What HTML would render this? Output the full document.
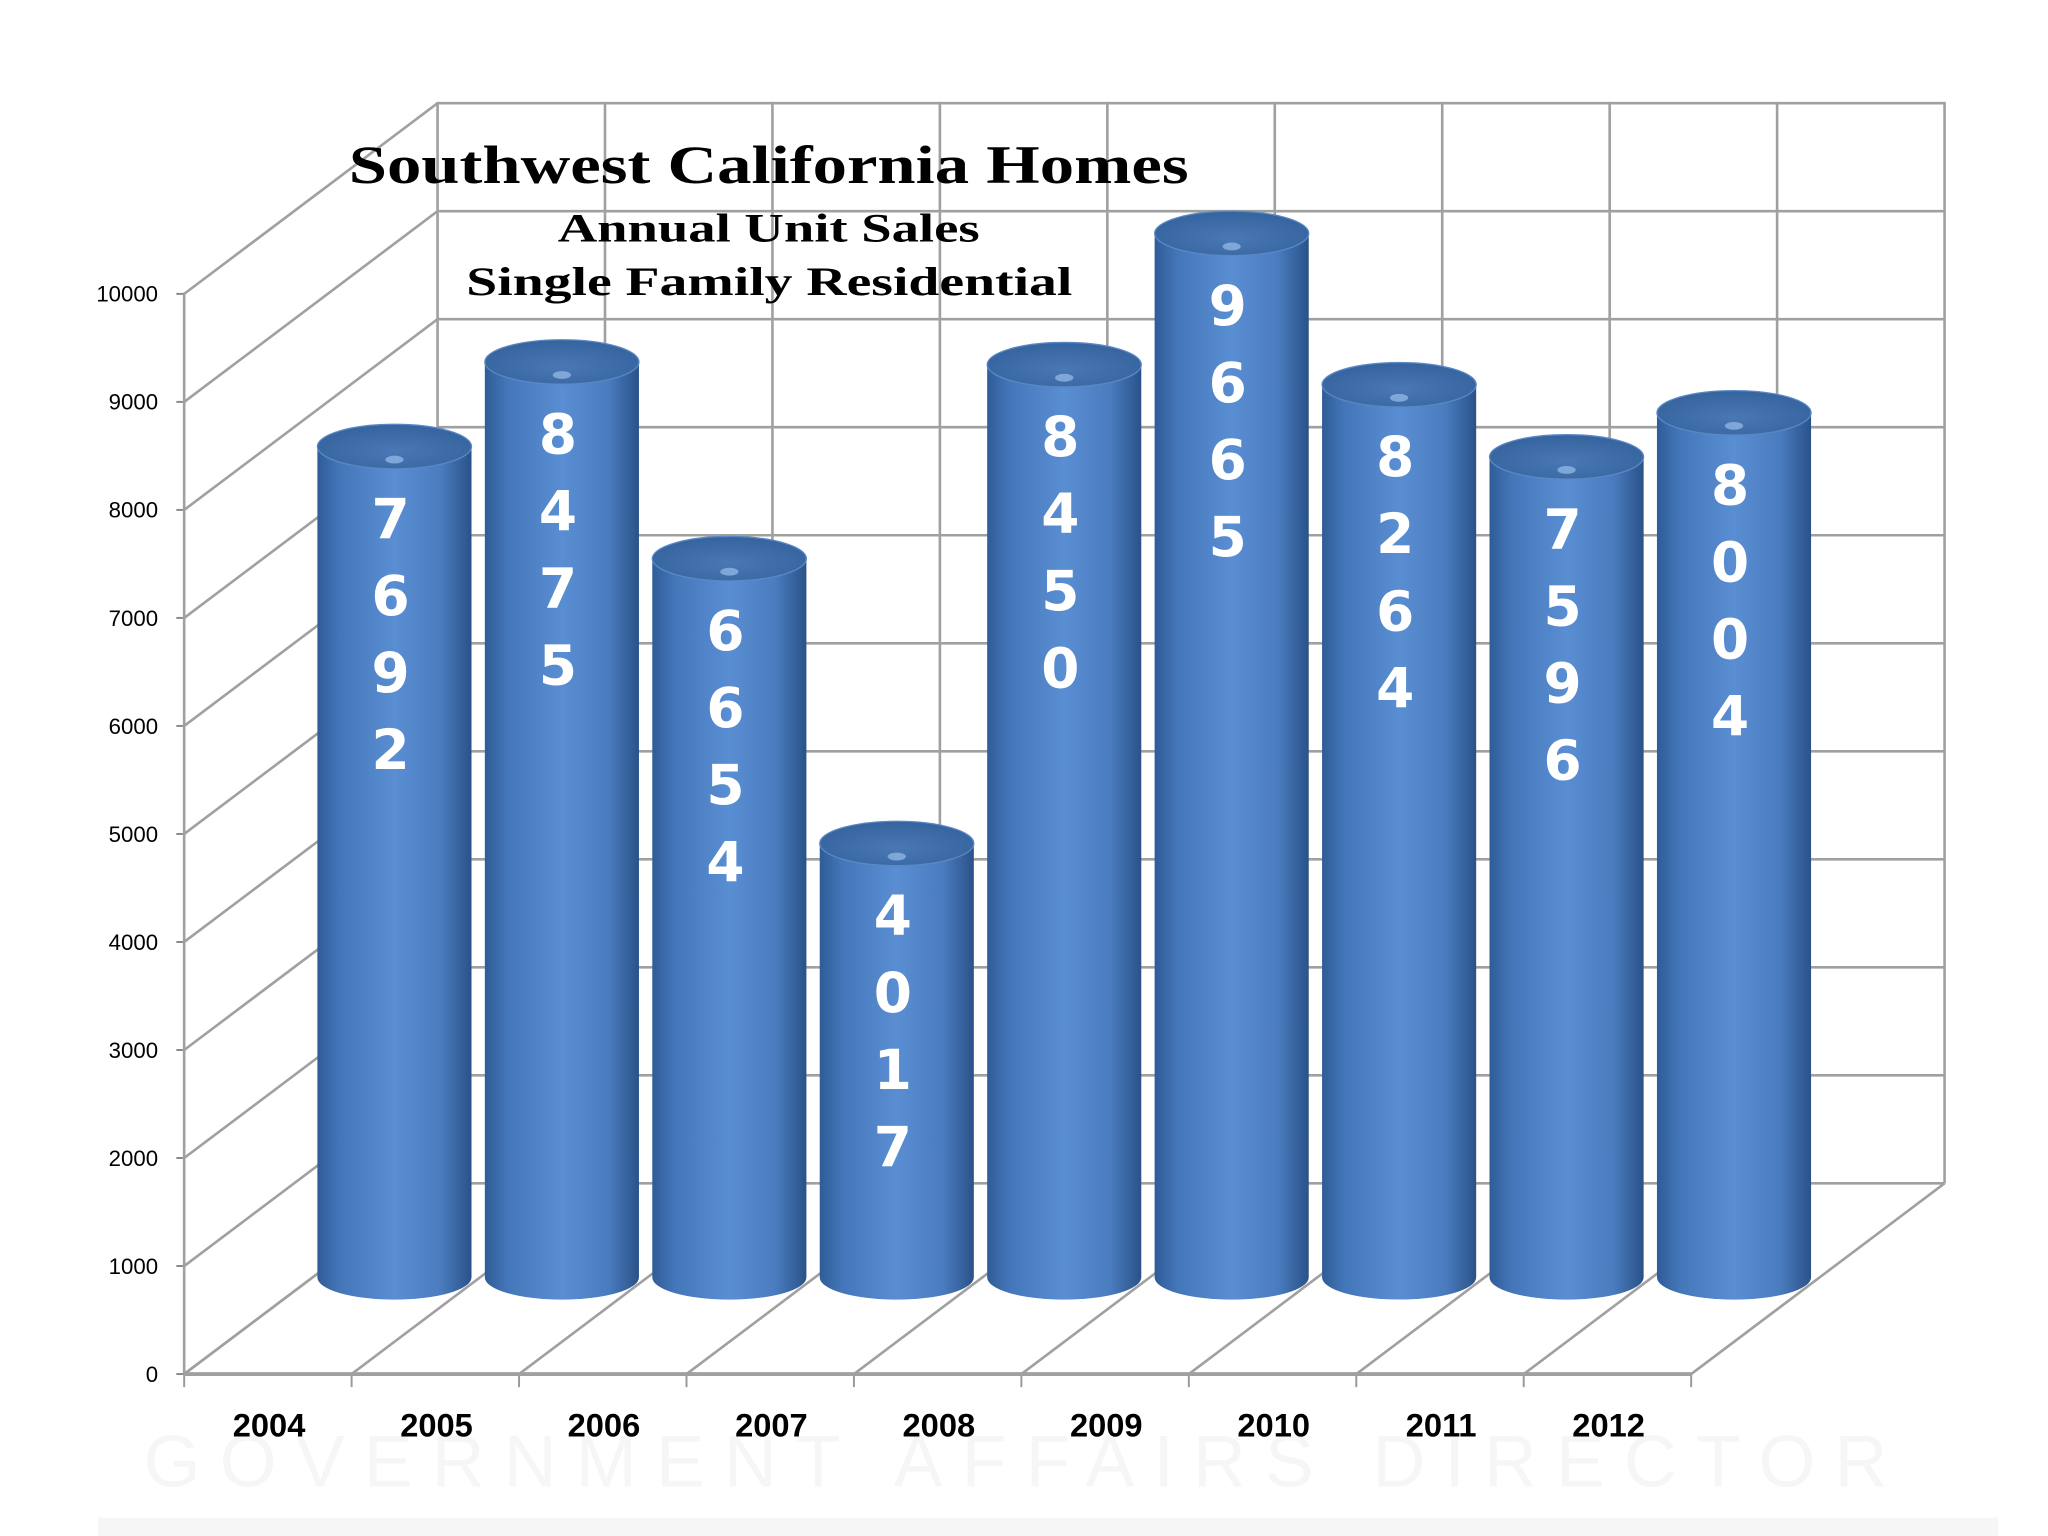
<!DOCTYPE html>
<html><head><meta charset="utf-8">
<style>
html,body{margin:0;padding:0;background:#fff;}
svg{display:block;}
</style></head>
<body>
<svg id="chart" width="2048" height="1536" viewBox="0 0 1568 1176" preserveAspectRatio="none" xmlns="http://www.w3.org/2000/svg">
<defs>
<linearGradient id="cyl" x1="0" x2="1" y1="0" y2="0">
<stop offset="0" stop-color="#2f5c97"/>
<stop offset="0.15" stop-color="#4477ba"/>
<stop offset="0.5" stop-color="#5a8ed2"/>
<stop offset="0.8" stop-color="#4a7cbf"/>
<stop offset="1" stop-color="#2a5288"/>
</linearGradient>
<radialGradient id="topg" cx="0.5" cy="0.6" r="0.6">
<stop offset="0" stop-color="#4a78b4"/>
<stop offset="1" stop-color="#35639e"/>
</radialGradient>
</defs>
<g>
<text x="110" y="1138" textLength="1335" lengthAdjust="spacing" font-family="Liberation Sans, sans-serif" font-size="56" fill="#f6f6f6">GOVERNMENT   AFFAIRS   DIRECTOR</text>
<rect x="75" y="1162" width="1455" height="14" fill="#f6f6f6"/>
</g>
<g id="grid"></g>
<g id="bars"></g>
<g id="labels"></g>
<g font-family="Liberation Serif, serif" font-weight="bold" fill="#000">
<text x="267" y="140" font-size="41" textLength="643" lengthAdjust="spacingAndGlyphs">Southwest California Homes</text>
<text x="427" y="185" font-size="31" textLength="323" lengthAdjust="spacingAndGlyphs">Annual Unit Sales</text>
<text x="357" y="226" font-size="31" textLength="464" lengthAdjust="spacingAndGlyphs">Single Family Residential</text>
</g>
</svg>
<script>
const categories = ["2004","2005","2006","2007","2008","2009","2010","2011","2012"];
const values = [7692,8475,6654,4017,8450,9665,8264,7596,8004];
const yTicks = [0,1000,2000,3000,4000,5000,6000,7000,8000,9000,10000];

const NS="http://www.w3.org/2000/svg";
const fx0=141, fy0=1052, dx=194, dy=-146, per=82.7, step=128.2;
function yFront(v){return fy0 - v/1000*per;}
function xFront(i){return fx0 + i*step;}
function el(tag,attrs,parent){const e=document.createElementNS(NS,tag);for(const k in attrs)e.setAttribute(k,attrs[k]);parent.appendChild(e);return e;}
const grid=document.getElementById('grid'), bars=document.getElementById('bars'), labels=document.getElementById('labels');
const gs={stroke:"#a0a0a0","stroke-width":2,fill:"none"};
yTicks.forEach(t=>{
  const y=yFront(t);
  const l1=el('line',Object.assign({x1:fx0,y1:y,x2:fx0+dx,y2:y+dy},gs),grid);
  
  
  const l2=el('line',Object.assign({x1:fx0+dx,y1:y+dy,x2:xFront(categories.length)+dx,y2:y+dy},gs),grid);
  
  
  const tk=el('line',{x1:fx0-6,y1:y,x2:fx0,y2:y,stroke:"#888","stroke-width":1.5},grid);
  
  
  const tx=el('text',{x:121,y:y+6,"text-anchor":"end","font-family":"Liberation Sans, sans-serif","font-size":17,fill:"#000"},labels);
  tx.textContent=t;
  
  
});
for(let i=0;i<=categories.length;i++){
  const x=xFront(i);
  const v=el('line',Object.assign({x1:x+dx,y1:yFront(0)+dy,x2:x+dx,y2:yFront(10000)+dy-1},gs),grid);
  
  
  const f=el('line',Object.assign({x1:x,y1:fy0,x2:x+dx,y2:fy0+dy},gs),grid);
  
  
  const tk=el('line',{x1:x,y1:fy0,x2:x,y2:fy0+10,stroke:"#999","stroke-width":1.5},grid);
  
  
}
const ax=el('line',{x1:fx0,y1:fy0,x2:xFront(categories.length),y2:fy0,stroke:"#a0a0a0","stroke-width":3},grid);


const ay=el('line',{x1:fx0,y1:fy0,x2:fx0,y2:yFront(10000),stroke:"#a0a0a0","stroke-width":2},grid);


const base=978, rx=59, ry=17;
categories.forEach((c,i)=>{
  const cx=302+i*step;
  const top=base - values[i]/1000*per;
  const g=el('g',{},bars);
  
  
  el('path',{d:`M${cx-rx},${top} L${cx-rx},${base} A${rx},${ry} 0 0 0 ${cx+rx},${base} L${cx+rx},${top} Z`,fill:"url(#cyl)"},g);
  el('ellipse',{cx:cx,cy:top,rx:rx,ry:ry,fill:"url(#topg)",stroke:"#5a88c4","stroke-width":1},g);
  el('ellipse',{cx:cx,cy:top+10,rx:7,ry:3,fill:"#8fb4e4",opacity:0.8},g);
  const digits=String(values[i]).split('');
  digits.forEach((d,k)=>{
    const t=el('text',{x:cx-3,y:top+70+k*59,"text-anchor":"middle","font-family":"DejaVu Sans, sans-serif","font-weight":"bold","font-size":42,fill:"#fff"},g);
    t.textContent=d;
    
    
  });
  const xl=el('text',{x:xFront(i)+65,y:1100,"text-anchor":"middle","font-family":"Liberation Sans, sans-serif","font-weight":"bold","font-size":25,fill:"#000"},labels);
  xl.textContent=c;
  
  
});
</script>
</body></html>
